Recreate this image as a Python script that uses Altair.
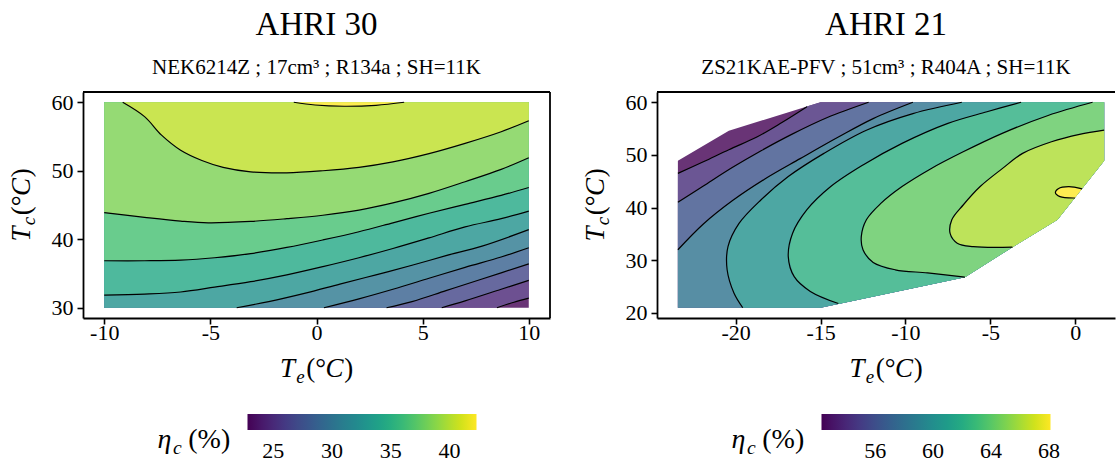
import altair as alt
import numpy as np
import pandas as pd

FONT = "Liberation Serif, Times New Roman, serif"

# ================= AHRI 30 : NEK6214Z (left panel) =================
A30_TITLE = "AHRI 30"
A30_SUB = "NEK6214Z ; 17cm³ ; R134a ; SH=11K"
A30_ENV = [(-10, 30), (-10, 60), (10, 60), (10, 30)]          # map envelope (Te, Tc)
A30_XDOM = [-11, 11]
A30_YDOM = [28.5, 61.5]
A30_XTICKS = [-10, -5, 0, 5, 10]
A30_YTICKS = [30, 40, 50, 60]
A30_CBAR = [22.8, 42.3]
A30_CTICKS = [25, 30, 35, 40]
A30_PEAK = (1.3, 59.8)
A30_LEVELS = [24, 26, 28, 30, 32, 34, 36, 38, 40, 42]
# iso-efficiency lines as (Te, Tc)
A30_L24 = [(8.5, 30.0), (9.3, 30.8), (10.0, 31.4)]
A30_L26 = [(5.9, 30.0), (7.0, 31.0), (8.7, 32.7), (10.0, 34.0)]
A30_L28 = [(3.3, 30.0), (4.5, 30.9), (6.1, 32.5), (7.8, 34.2), (10.0, 36.4)]
A30_L30 = [(0.35, 30.0), (2.0, 31.3), (3.6, 32.7), (5.3, 34.3), (7.0, 35.9), (8.7, 37.4), (10.0, 38.75)]
A30_L32 = [(-3.76, 30.0), (-2.25, 30.9), (-0.57, 32.1), (1.1, 33.45), (2.8, 34.8), (4.5, 36.2),
           (6.1, 37.6), (7.8, 39.0), (10.0, 41.4)]
A30_L34 = [(-10.0, 31.85), (-8.1, 32.0), (-6.4, 32.3), (-4.8, 33.0), (-3.1, 33.8), (-1.4, 34.8),
           (0.3, 36.0), (2.0, 37.3), (3.6, 38.65), (5.3, 40.2), (7.0, 41.8), (8.7, 43.0), (10.0, 44.1)]
A30_L36 = [(-10.0, 36.86), (-8.1, 36.86), (-6.4, 36.95), (-4.8, 37.3), (-3.1, 37.9), (-1.4, 38.8),
           (0.3, 39.9), (2.0, 41.1), (3.6, 42.4), (5.3, 43.8), (7.0, 45.1), (8.7, 46.4), (10.0, 47.55)]
A30_L38 = [(-10.0, 43.9), (-8.1, 43.2), (-6.4, 42.65), (-5.1, 42.4), (-3.1, 42.6), (-1.4, 43.0),
           (0.3, 43.5), (2.0, 44.25), (3.6, 45.3), (5.3, 46.7), (7.0, 48.4), (8.7, 50.2), (10.0, 51.9)]
A30_L40 = [(-9.13, 60.0), (-8.1, 57.9), (-7.3, 55.2), (-6.4, 53.0), (-5.4, 51.5), (-4.4, 50.5),
           (-3.1, 49.85), (-1.4, 49.7), (0.3, 50.0), (2.0, 50.5), (3.6, 51.3), (5.3, 52.5),
           (7.0, 54.0), (8.7, 55.7), (10.0, 57.3)]
A30_L42 = [(-1.07, 60.0), (-0.07, 59.6), (1.3, 59.42), (2.8, 59.56), (4.13, 60.0)]
A30_LINES = [A30_L24, A30_L26, A30_L28, A30_L30, A30_L32, A30_L34, A30_L36, A30_L38, A30_L40, A30_L42]

# ================= AHRI 21 : ZS21KAE-PFV (right panel) =================
A21_TITLE = "AHRI 21"
A21_SUB = "ZS21KAE-PFV ; 51cm³ ; R404A ; SH=11K"
A21_ENV = [(-23.4, 21.0), (-23.4, 48.9), (-20.4, 54.6), (-15.0, 60.0), (1.7, 60.0), (1.7, 48.9),
           (-1.05, 37.7), (-3.7, 32.5), (-6.5, 26.8), (-15.0, 21.0)]
A21_XDOM = [-24.63, 2.34]
A21_YDOM = [19.05, 61.95]
A21_XTICKS = [-20, -15, -10, -5, 0]
A21_YTICKS = [20, 30, 40, 50, 60]
A21_CBAR = [52.3, 68.1]
A21_CTICKS = [56, 60, 64, 68]
A21_PEAK = (-0.5, 42.9)
A21_LEVELS = [54, 56, 58, 60, 62, 64, 66, 68]
A21_L54 = [(-23.4, 46.5), (-21.9, 48.7), (-20.4, 51.0), (-18.75, 53.4), (-17.3, 56.1), (-15.8, 59.15)]
A21_L56 = [(-23.4, 41.0), (-21.9, 44.1), (-20.2, 47.6), (-18.5, 50.8), (-16.7, 53.9), (-14.6, 57.1),
           (-12.17, 60.0)]
A21_L58 = [(-23.4, 32.0), (-21.9, 36.9), (-20.2, 41.3), (-18.3, 45.4), (-16.2, 49.3), (-13.95, 53.4),
           (-11.9, 56.9), (-9.56, 60.0)]
A21_L60 = [(-19.58, 21.0), (-20.1, 23.8), (-20.5, 28.2), (-20.45, 32.6), (-19.8, 37.0), (-18.5, 41.5),
           (-16.9, 45.9), (-14.8, 50.3), (-12.3, 54.7), (-9.56, 57.85), (-6.68, 60.0)]
A21_L62 = [(-13.95, 21.8), (-15.6, 24.1), (-16.55, 26.9), (-16.9, 30.7), (-16.65, 35.1), (-15.8, 39.6),
           (-14.4, 44.0), (-12.5, 48.1), (-10.2, 52.2), (-7.5, 56.0), (-5.2, 58.2), (-3.19, 60.0)]
A21_L64 = [(-6.5, 26.8), (-8.7, 27.6), (-10.6, 28.2), (-11.9, 29.6), (-12.5, 32.0), (-12.6, 34.5),
           (-12.3, 37.7), (-11.45, 40.8), (-10.2, 44.0), (-8.5, 47.4), (-6.6, 50.6), (-4.3, 54.1),
           (-1.6, 57.5), (1.02, 60.0)]
A21_L66 = [(-3.7, 32.5), (-6.0, 32.6), (-6.95, 33.25), (-7.37, 35.1), (-7.27, 37.7), (-6.6, 40.5),
           (-5.6, 44.0), (-4.3, 47.4), (-3.1, 50.3), (-1.4, 52.5), (0.25, 53.9), (1.7, 54.7)]
A21_L68 = [(0.4, 43.55), (-0.38, 43.97), (-1.0, 43.6), (-1.17, 42.84), (-0.9, 42.08), (-0.02, 41.83)]
A21_LINES = [A21_L54, A21_L56, A21_L58, A21_L60, A21_L62, A21_L64, A21_L66, A21_L68]

# ---------------- style helpers ----------------
VIRIDIS = ["#440154", "#482475", "#414487", "#355f8d", "#2a788e", "#21918c",
           "#22a884", "#44bf70", "#7ad151", "#bddf26", "#fde725"]
FILL_ALPHA = 0.8
CB_X, CB_Y, CB_LEN, CB_THICK = 164.5, 322, 229, 16


def band_color(t):
    rgb = [tuple(int(h[i:i + 2], 16) for i in (1, 3, 5)) for h in VIRIDIS]
    p = t * (len(rgb) - 1)
    i = min(int(np.floor(p)), len(rgb) - 2)
    f = p - i
    c = [rgb[i][k] + (rgb[i + 1][k] - rgb[i][k]) * f for k in range(3)]
    c = [FILL_ALPHA * v + (1 - FILL_ALPHA) * 255 for v in c]
    return "#" + "".join(f"{int(round(v)):02x}" for v in c)


def perim_pos(env, p):
    n = len(env)
    best = None
    P = np.array(p, float)
    for i in range(n):
        a = np.array(env[i], float)
        b = np.array(env[(i + 1) % n], float)
        d = b - a
        t = float(np.clip(np.dot(P - a, d) / np.dot(d, d), 0, 1))
        q = a + t * d
        dist = float(np.hypot(*(P - q)))
        if best is None or dist < best[0]:
            best = (dist, i + t, (float(q[0]), float(q[1])))
    return best[1], best[2]


def walk(env, sfrom, sto, forward):
    n = len(env)
    pts = []
    if forward:
        dist = (sto - sfrom) % n
        k = int(np.floor(sfrom)) + 1
        while k - sfrom < dist:
            pts.append(env[k % n])
            k += 1
    else:
        dist = (sfrom - sto) % n
        k = int(np.ceil(sfrom)) - 1
        while sfrom - k < dist:
            pts.append(env[k % n])
            k -= 1
    return pts


def inside(poly, p):
    x, y = p
    c = False
    n = len(poly)
    for i in range(n):
        x1, y1 = poly[i]
        x2, y2 = poly[(i + 1) % n]
        if (y1 > y) != (y2 > y):
            xi = x1 + (y - y1) * (x2 - x1) / (y2 - y1)
            if x < xi:
                c = not c
    return c


def superlevel(env, line, peak):
    s0, q0 = perim_pos(env, line[0])
    s1, q1 = perim_pos(env, line[-1])
    core = [q0] + list(line[1:-1]) + [q1]
    a = core + walk(env, s1, s0, True)
    b = core + walk(env, s1, s0, False)
    return a if inside(a, peak) else b


DUMMY = pd.DataFrame({"k": [0]})


def text_piece(txt, x, y, size, italic=False, angle=0):
    return alt.Chart(DUMMY).mark_text(
        text=txt, font=FONT, fontSize=size, fontStyle="italic" if italic else "normal",
        align="left", baseline="alphabetic", angle=angle, color="black"
    ).encode(x=alt.value(x), y=alt.value(y))


def math_label(pieces, x0, y0, vertical=False):
    out = []
    for txt, dx, dy, size, it in pieces:
        if vertical:
            out.append(text_piece(txt, x0 + dy, y0 - dx, size, it, 270))
        else:
            out.append(text_piece(txt, x0 + dx, y0 + dy, size, it))
    return out


def temp_pieces(sub, S):
    return [("T", 0, 0, S, True), (sub, 0.60 * S, 0.22 * S, 0.7 * S, True),
            ("(", 0.97 * S, 0, S, False), ("°", 1.30 * S, 0, S, False),
            ("C", 1.68 * S, 0, S, True), (")", 2.38 * S, 0, S, False)]


def eta_pieces(S):
    return [("η", 0, 0, S, True), ("c", 0.55 * S, 0.22 * S, 0.7 * S, True),
            ("(%)", 1.1 * S, 0, S, False)]


AX_S = 27
LEG_S = 28


def build_panel(env, levels, lines, peak, xdom, ydom, xticks, yticks, cdom, cticks,
                title, sub, W, H, right_frame):
    nb = len(levels) + 1
    cols = [band_color(i / (nb - 1)) for i in range(nb)]
    xenc = alt.X("te:Q", scale=alt.Scale(domain=xdom, nice=False, zero=False),
                 axis=alt.Axis(values=xticks, title=None, labelExpr="'' + datum.value"))
    yenc = alt.Y("tc:Q", scale=alt.Scale(domain=ydom, nice=False, zero=False),
                 axis=alt.Axis(values=yticks, title=None, labelExpr="'' + datum.value"))
    layers = []
    polys = [(list(env), cols[0])]
    for k, ln in enumerate(lines):
        polys.append((superlevel(env, ln, peak), cols[k + 1]))
    for pts, col in polys:
        df = pd.DataFrame({"te": [p[0] for p in pts], "tc": [p[1] for p in pts],
                           "ord": list(range(len(pts)))})
        layers.append(alt.Chart(df).mark_line(filled=True, color=col, strokeWidth=0,
                                              interpolate="linear-closed")
                      .encode(x=xenc, y=yenc, order="ord:Q"))
    rows = []
    for lvl, ln in zip(levels, lines):
        for j, (te, tc) in enumerate(ln):
            rows.append({"lvl": lvl, "te": te, "tc": tc, "ord": j})
    layers.append(alt.Chart(pd.DataFrame(rows)).mark_line(color="black", strokeWidth=1.2,
                                                          interpolate="catmull-rom")
                  .encode(x=xenc, y=yenc, detail="lvl:N", order="ord:Q"))
    # frame (top / right); left and bottom come from axis domains
    layers.append(alt.Chart(DUMMY).mark_rule(color="black", strokeWidth=1.8)
                  .encode(x=alt.value(0), x2=alt.value(W), y=alt.value(0)))
    if right_frame:
        layers.append(alt.Chart(DUMMY).mark_rule(color="black", strokeWidth=1.8)
                      .encode(x=alt.value(W), y=alt.value(0), y2=alt.value(H)))
    # colour bar (legend)
    leg = pd.DataFrame({"eta": cdom})
    layers.append(alt.Chart(leg).mark_point(size=0, strokeWidth=0, opacity=1).encode(
        x=alt.value(0), y=alt.value(0),
        color=alt.Color("eta:Q", scale=alt.Scale(scheme="viridis", domain=cdom),
                        legend=alt.Legend(orient="none", legendX=CB_X, legendY=CB_Y,
                                          direction="horizontal", gradientLength=CB_LEN,
                                          gradientThickness=CB_THICK, title=None, values=cticks,
                                          labelFont=FONT, labelFontSize=22, labelColor="black",
                                          labelOffset=11, gradientStrokeWidth=0,
                                          gradientOpacity=1, zindex=0))))
    # small white colour-bar ticks (matplotlib style), placed at the tick values
    for v in cticks:
        px = CB_X + (v - cdom[0]) / (cdom[1] - cdom[0]) * CB_LEN
        for ya, yb in ((CB_Y, CB_Y + 3.5), (CB_Y + CB_THICK - 3.5, CB_Y + CB_THICK)):
            layers.append(alt.Chart(DUMMY).mark_rule(color="white", strokeWidth=1)
                          .encode(x=alt.value(px), y=alt.value(ya), y2=alt.value(yb)))
    # axis titles and colour-bar title (math style)
    layers += math_label(temp_pieces("e", AX_S), W / 2 - 1.35 * AX_S, H + 59)
    layers += math_label(temp_pieces("c", AX_S), -53.5, H / 2 + 1.35 * AX_S, vertical=True)
    layers += math_label(eta_pieces(LEG_S), 74.5, 356)
    return alt.layer(*layers).properties(
        width=W, height=H,
        title=alt.TitleParams(text=title, subtitle=sub, font=FONT, fontSize=33,
                              fontWeight="normal", color="black", subtitleFont=FONT,
                              subtitleFontSize=21, subtitleColor="black", anchor="middle",
                              frame="group", offset=13, subtitlePadding=15.5))


left = build_panel(A30_ENV, A30_LEVELS, A30_LINES, A30_PEAK, A30_XDOM, A30_YDOM, A30_XTICKS,
                   A30_YTICKS, A30_CBAR, A30_CTICKS, A30_TITLE, A30_SUB, 467, 226, True)
right = build_panel(A21_ENV, A21_LEVELS, A21_LINES, A21_PEAK, A21_XDOM, A21_YDOM, A21_XTICKS,
                    A21_YTICKS, A21_CBAR, A21_CTICKS, A21_TITLE, A21_SUB, 458, 226, False)

chart = alt.hconcat(left, right, spacing=30).resolve_scale(color="independent").resolve_legend(
    color="independent"
).configure_view(stroke=None).configure_axis(
    domainColor="black", domainWidth=1.8, tickColor="black", tickWidth=1.6, tickSize=6,
    labelFont=FONT, labelFontSize=22, labelColor="black", labelPadding=4, grid=False
).configure_axisX(labelPadding=-2).properties(
    padding={"left": 7, "top": 8, "right": 0, "bottom": 0}, background="white")

chart.save("out.html", embed_options={"renderer": "svg", "actions": False})
